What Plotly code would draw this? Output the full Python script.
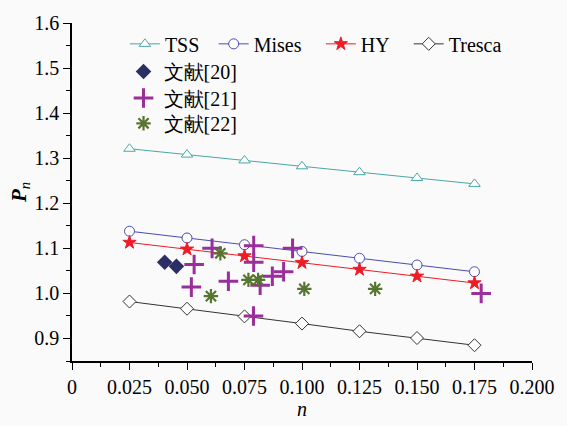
import plotly.graph_objects as go

n_vals = [0.025, 0.05, 0.075, 0.1, 0.125, 0.15, 0.175]
tss = [1.321, 1.308, 1.295, 1.282, 1.269, 1.256, 1.243]
mises = [1.138, 1.123, 1.108, 1.093, 1.078, 1.063, 1.048]
hy = [1.113, 1.098, 1.083, 1.068, 1.053, 1.038, 1.023]
tresca = [0.982, 0.966, 0.949, 0.933, 0.916, 0.901, 0.885]

ref20_x = [0.0403, 0.0454]
ref20_y = [1.069, 1.060]
ref21_x = [0.0609, 0.0531, 0.0519, 0.0680, 0.0790, 0.0790, 0.0818, 0.0871, 0.0920, 0.0959, 0.0789, 0.1779]
ref21_y = [1.100, 1.064, 1.014, 1.027, 1.106, 1.069, 1.018, 1.038, 1.048, 1.100, 0.950, 1.000]
ref22_x = [0.0645, 0.0604, 0.0767, 0.0809, 0.1010, 0.1318]
ref22_y = [1.089, 0.994, 1.030, 1.030, 1.010, 1.010]

x_tickvals = [0, 0.025, 0.05, 0.075, 0.1, 0.125, 0.15, 0.175, 0.2]
x_ticktext = ["0", "0.025", "0.050", "0.075", "0.100", "0.125", "0.150", "0.175", "0.200"]
y_tickvals = [0.9, 1.0, 1.1, 1.2, 1.3, 1.4, 1.5, 1.6]

FONT = "Liberation Serif"

fig = go.Figure()
line_series = [
    ("TSS", tss, "#4aa6a6", "triangle-up", 10, "legend"),
    ("Mises", mises, "#4b4bb0", "circle", 10, "legend2"),
    ("HY", hy, "#ee1c25", "star", 10, "legend3"),
    ("Tresca", tresca, "#333333", "diamond", 10, "legend4"),
]
for name, ys, col, sym, sz, lg in line_series:
    fig.add_trace(go.Scatter(
        x=n_vals, y=ys, name=name, mode="lines+markers",
        line=dict(color=col, width=1),
        marker=dict(symbol=sym, size=sz, color=col if sym == "star" else "white",
                    line=dict(color=col, width=1)),
        legend=lg,
    ))

fig.add_trace(go.Scatter(
    x=ref20_x, y=ref20_y, name="文献[20]", mode="markers",
    marker=dict(symbol="diamond", size=12, color="#2b2f66"),
    legend="legend5",
))
fig.add_trace(go.Scatter(
    x=ref21_x, y=ref21_y, name="文献[21]", mode="markers",
    marker=dict(symbol="cross-thin-open", size=14, color="#9a2e9a",
                line=dict(color="#9a2e9a", width=3)),
    legend="legend6",
))
fig.add_trace(go.Scatter(
    x=ref22_x, y=ref22_y, name="文献[22]", mode="markers",
    marker=dict(symbol="asterisk-open", size=12, color="#557530",
                line=dict(color="#557530", width=2.2)),
    legend="legend7",
))

axis_common = dict(
    showline=True, linecolor="black", linewidth=1.5, mirror=False,
    ticks="outside", ticklen=7, tickwidth=1.3, tickcolor="black",
    showgrid=False, zeroline=False,
)

def leg(x, y):
    return dict(orientation="v", x=x, y=y, xanchor="left", yanchor="top",
                bgcolor="rgba(0,0,0,0)", font=dict(family=FONT, size=20))

fig.update_layout(
    width=567, height=426,
    margin=dict(l=72, r=25, t=19, b=62),
    paper_bgcolor="#fafafa", plot_bgcolor="#fafafa",
    font=dict(size=20, color="black"),
    showlegend=True,
    xaxis=dict(range=[0, 0.2], tickvals=x_tickvals, ticktext=x_ticktext,
               tickfont=dict(family=FONT, size=20),
               minor=dict(ticks="outside", ticklen=4, tickwidth=1.2, tickcolor="black", dtick=0.0125, tick0=0),
               title=dict(text="<i>n</i>", font=dict(family=FONT, size=20), standoff=2),
               **axis_common),
    yaxis=dict(range=[0.85, 1.6], tickvals=y_tickvals, tickformat=".1f",
               tickfont=dict(family=FONT, size=20),
               minor=dict(ticks="outside", ticklen=4, tickwidth=1.2, tickcolor="black", dtick=0.05, tick0=0.85),
               title=dict(text="<b><i>P</i></b><sub><i>n</i></sub>", font=dict(family=FONT, size=21), standoff=2),
               **axis_common),
    legend=leg(0.115, 0.996),
    legend2=leg(0.308, 0.996),
    legend3=leg(0.541, 0.996),
    legend4=leg(0.732, 0.996),
    legend5=leg(0.112, 0.914),
    legend6=leg(0.112, 0.836),
    legend7=leg(0.112, 0.761),
)

fig.write_html("out.html")
